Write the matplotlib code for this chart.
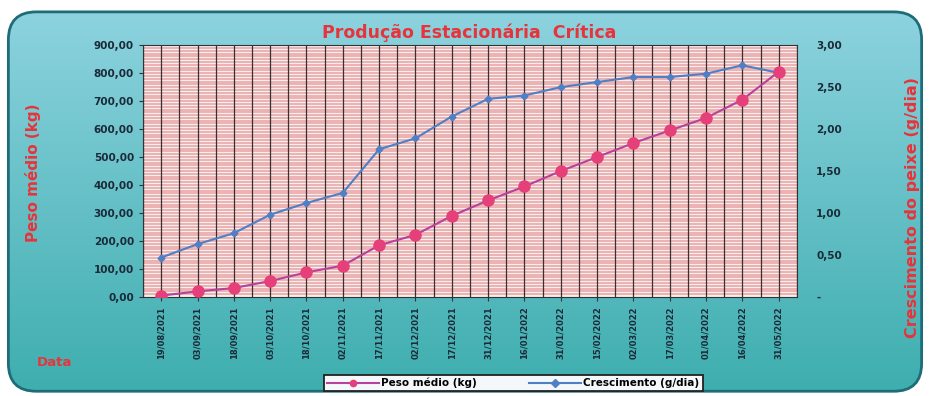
import numpy as np
import matplotlib
matplotlib.use("Agg")
import matplotlib.pyplot as plt
from matplotlib.patches import FancyBboxPatch
from matplotlib.ticker import FuncFormatter, MultipleLocator

datas = ["19/08/2021", "03/09/2021", "18/09/2021", "03/10/2021", "18/10/2021",
         "02/11/2021", "17/11/2021", "02/12/2021", "17/12/2021", "31/12/2021",
         "16/01/2022", "31/01/2022", "15/02/2022", "02/03/2022", "17/03/2022",
         "01/04/2022", "16/04/2022", "31/05/2022"]
peso_medio = [5, 20, 32, 57, 88, 112, 185, 222, 290, 345, 395, 450, 500, 550,
              595, 640, 705, 805]
crescimento = [0.47, 0.63, 0.76, 0.98, 1.12, 1.24, 1.76, 1.89, 2.15, 2.36, 2.40,
               2.50, 2.56, 2.62, 2.62, 2.66, 2.76, 2.67]

RED = "#e8333a"
NAVY = "#1b2a38"

def fmt_br(v, pos=None):
    return f"{v:,.2f}".replace(",", "X").replace(".", ",").replace("X", ".")

def fmt_right(v, pos=None):
    if abs(v) < 1e-9:
        return "-"
    return fmt_br(v)

fig = plt.figure(figsize=(9.3, 3.96), dpi=100)
fig.patch.set_facecolor("white")

# fundo arredondado com degradê
bg = fig.add_axes([0, 0, 1, 1], zorder=-10)
bg.set_xlim(0, 1)
bg.set_ylim(0, 1)
bg.axis("off")
frame = FancyBboxPatch((0.009, 0.012), 0.982, 0.958,
                       boxstyle="round,pad=0,rounding_size=0.03",
                       transform=bg.transAxes, facecolor="none",
                       edgecolor="#1e6c78", linewidth=2.0, mutation_aspect=2.35)
bg.add_patch(frame)
grad = np.linspace(0, 1, 256).reshape(-1, 1)
top = np.array([0.56, 0.83, 0.88])
bot = np.array([0.24, 0.68, 0.68])
img = top * (1 - grad[..., None]) + bot * grad[..., None]
im = bg.imshow(img, extent=[0, 1, 0, 1], aspect="auto", origin="upper", zorder=-1)
im.set_clip_path(frame)

ax = fig.add_axes([0.1538, 0.25, 0.703, 0.636])
ax.set_facecolor("#f7eeee")
x = np.arange(len(datas))

# grade
for yv in np.arange(10, 900, 10):
    ax.axhline(yv, color="#e8a2a2", lw=1.1, zorder=0)
for xv in np.arange(-0.5, len(datas), 0.5):
    ax.axvline(xv, color="#3a3030", lw=0.9, zorder=1)

ax.set_xlim(-0.5, len(datas) - 0.5)
ax.set_ylim(0, 900)
ax.yaxis.set_major_locator(MultipleLocator(100))
ax.yaxis.set_major_formatter(FuncFormatter(fmt_br))
ax.set_xticks(x)
ax.set_xticklabels(datas, rotation=90, fontsize=6, fontweight="bold", color=NAVY)
ax.tick_params(axis="y", labelsize=7.5, labelcolor=NAVY, length=3, color="#333")
ax.tick_params(axis="x", length=3, color="#333", pad=4)
for lab in ax.get_yticklabels():
    lab.set_fontweight("bold")
for s in ax.spines.values():
    s.set_color("#333")
    s.set_linewidth(0.8)

ax2 = ax.twinx()
ax2.set_ylim(0, 3)
ax2.yaxis.set_major_locator(MultipleLocator(0.5))
ax2.yaxis.set_major_formatter(FuncFormatter(fmt_right))
ax2.tick_params(axis="y", labelsize=7.5, labelcolor=NAVY, length=0, pad=14)
for lab in ax2.get_yticklabels():
    lab.set_fontweight("bold")
for s in ax2.spines.values():
    s.set_visible(False)

l2, = ax2.plot(x, crescimento, color="#4f7fc4", lw=1.5, marker="D", ms=3.5,
               markerfacecolor="#4f7fc4", label="Crescimento (g/dia)", zorder=3)
l1, = ax2.plot(x, np.array(peso_medio) / 300.0, color="#b9409c", lw=1.5,
               marker="o", ms=8, markerfacecolor="#e5407a",
               markeredgecolor="#e5407a", label="Peso médio (kg)", zorder=4)

fig.text(0.505, 0.918, "Produção Estacionária  Crítica", ha="center", va="center",
         fontsize=12.5, fontweight="bold", color=RED,
         family=["Liberation Sans Narrow", "DejaVu Sans"])
fig.text(0.036, 0.565, "Peso médio (kg)", rotation=90, ha="center", va="center",
         fontsize=11, fontweight="bold", color=RED)
fig.text(0.981, 0.475, "Crescimento do peixe (g/dia)", rotation=90, ha="center",
         va="center", fontsize=11.5, fontweight="bold", color=RED)
fig.text(0.058, 0.085, "Data", ha="center", va="center", fontsize=9.5,
         fontweight="bold", color=RED)

leg = fig.legend(handles=[l1, l2], loc="center", bbox_to_anchor=(0.552, 0.033),
                 ncol=2, frameon=True, fancybox=False,
                 prop={"weight": "bold", "size": 7.5}, handlelength=5,
                 columnspacing=5, borderpad=0.3, handletextpad=0.2,
                 borderaxespad=0)
leg.get_frame().set_edgecolor("#222")
leg.get_frame().set_linewidth(1.3)
leg.get_frame().set_facecolor("#f4f8fa")
leg.get_frame().set_alpha(1)
for h in leg.legend_handles:
    h.set_markersize(4.5)

fig.savefig("out.png", dpi=100)
